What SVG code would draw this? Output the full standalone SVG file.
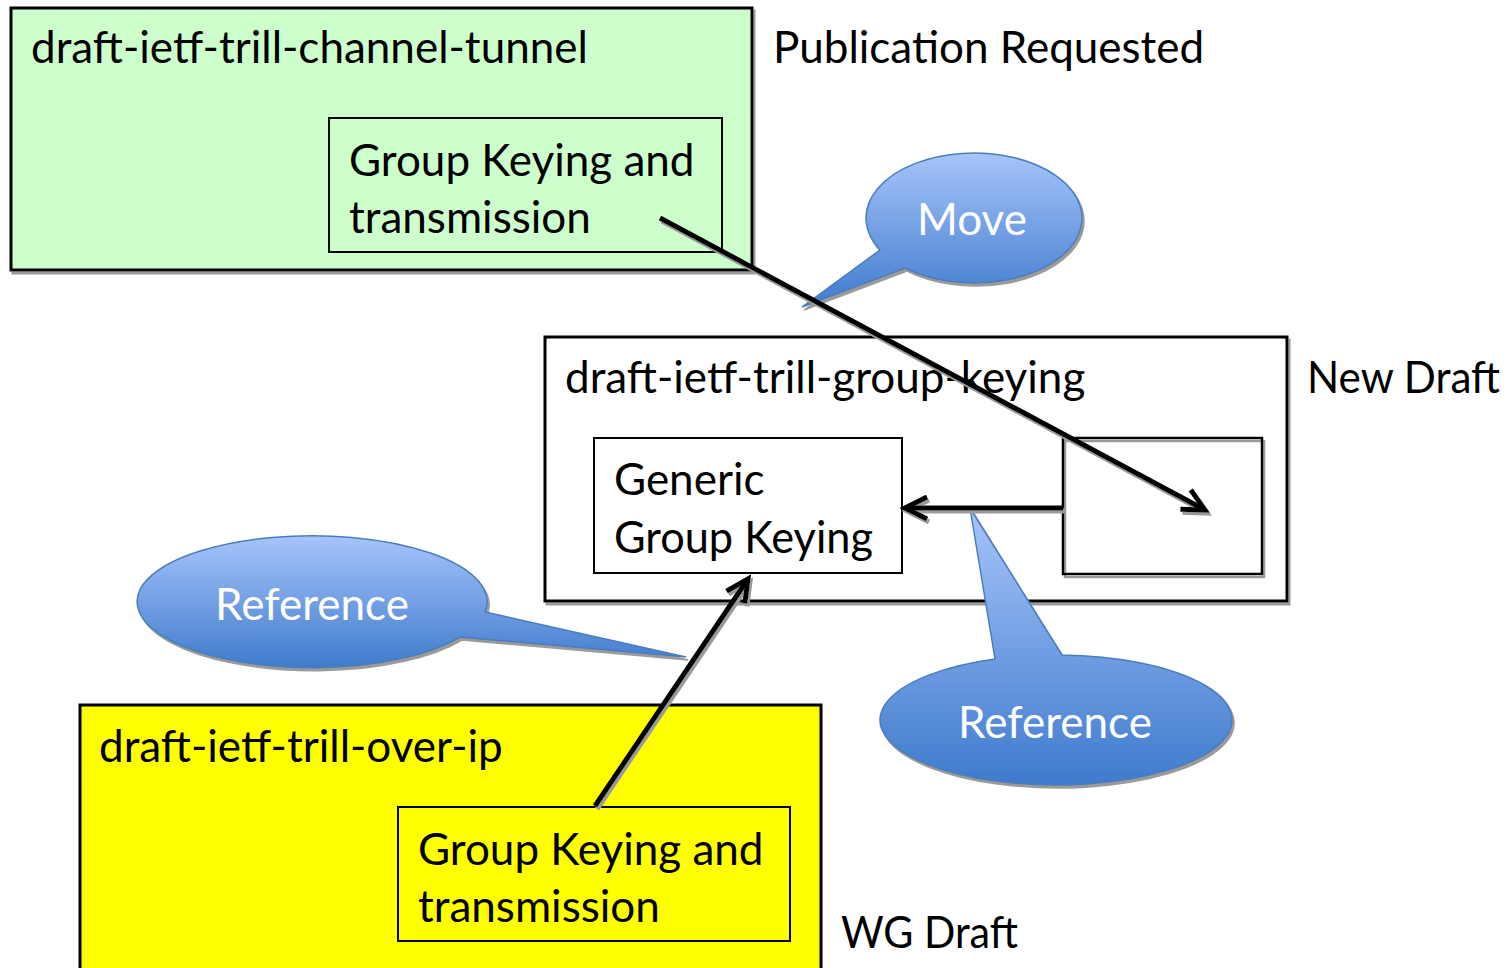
<svg xmlns="http://www.w3.org/2000/svg" width="1512" height="968" viewBox="0 0 1512 968">
  <defs>
    <style>
      .lbl { font-family: Lato, "Liberation Sans", sans-serif; font-size: 44px; fill: #000; }
      .call { font-family: Lato, "Liberation Sans", sans-serif; font-size: 44px; fill: #fff; text-anchor: middle; }
      .frame { stroke: #000; stroke-width: 3; }
      .inner { fill: none; stroke: #000; stroke-width: 2; }
      .bubble { fill: url(#bubbleFill); stroke: #4a7ebb; stroke-width: 1.5; filter: url(#shade); }
      .conn { fill: none; stroke: #000; stroke-width: 5; filter: url(#shade); }
    </style>
    <linearGradient id="bubbleFill" x1="0" y1="0" x2="0" y2="1">
      <stop offset="0" stop-color="#a7c4fa"/>
      <stop offset="1" stop-color="#3f7bcd"/>
    </linearGradient>
    <!-- hard grey drop shadow, region covers the whole canvas so thin lines keep it -->
    <filter id="shade" filterUnits="userSpaceOnUse" x="0" y="0" width="1512" height="968">
      <feOffset in="SourceAlpha" dx="2" dy="3" result="off"/>
      <feFlood flood-color="#9a9a9a"/>
      <feComposite in2="off" operator="in" result="sh"/>
      <feMerge>
        <feMergeNode in="sh"/>
        <feMergeNode in="SourceGraphic"/>
      </feMerge>
    </filter>
    <marker id="openArrow" markerUnits="userSpaceOnUse" markerWidth="40" markerHeight="40" refX="0" refY="0" viewBox="-30 -20 40 40" orient="auto" overflow="visible">
      <path d="M -22 -11 L 0 0 L -22 11" fill="none" stroke="#000" stroke-width="5"/>
    </marker>
  </defs>

  <rect width="1512" height="968" fill="#fff"/>

  <!-- channel-tunnel draft -->
  <g id="channel-tunnel">
    <rect x="11" y="8" width="741" height="262" fill="#ccffcc" class="frame" filter="url(#shade)"/>
    <text class="lbl" x="31" y="63">draft-ietf-trill-channel-tunnel</text>
    <rect x="329" y="118" width="393" height="134" class="inner"/>
    <text class="lbl" x="349" y="176">Group Keying and</text>
    <text class="lbl" x="349" y="233">transmission</text>
  </g>
  <text id="status-published" class="lbl" x="773" y="63">Publication Requested</text>

  <!-- group-keying draft -->
  <g id="group-keying">
    <rect x="545" y="337" width="742" height="264" fill="#fff" class="frame" filter="url(#shade)"/>
    <text class="lbl" x="565" y="393">draft-ietf-trill-group-keying</text>
    <rect x="594" y="438" width="308" height="135" fill="none" stroke="#000" stroke-width="2"/>
    <text class="lbl" x="614" y="495">Generic</text>
    <text class="lbl" x="614" y="553" textLength="259" lengthAdjust="spacingAndGlyphs">Group Keying</text>
    <rect x="1063" y="438" width="199" height="136" fill="none" stroke="#000" stroke-width="2.5" filter="url(#shade)"/>
  </g>
  <text id="status-new" class="lbl" x="1307" y="393" textLength="193" lengthAdjust="spacingAndGlyphs">New Draft</text>

  <!-- over-ip draft -->
  <g id="over-ip">
    <rect x="80" y="705" width="741" height="275" fill="#ffff00" class="frame"/>
    <text class="lbl" x="99" y="762">draft-ietf-trill-over-ip</text>
    <rect x="398" y="807" width="392" height="134" class="inner"/>
    <text class="lbl" x="418" y="865">Group Keying and</text>
    <text class="lbl" x="418" y="922">transmission</text>
  </g>
  <text id="status-wg" class="lbl" x="841" y="948" textLength="177" lengthAdjust="spacingAndGlyphs">WG Draft</text>

  <!-- callouts -->
  <g id="callout-move">
    <path class="bubble" d="M 880 250 A 108 65 0 1 1 905 268 L 802 307 Z"/>
    <text class="call" x="972" y="235">Move</text>
  </g>
  <g id="callout-reference-left">
    <path class="bubble" d="M 460 637 A 175 66 0 1 1 485 612 L 686 657 Z"/>
    <text class="call" x="312" y="620">Reference</text>
  </g>
  <g id="callout-reference-right">
    <path class="bubble" d="M 1062 655 A 176 65 0 1 1 995 659 L 970 508 Z"/>
    <text class="call" x="1055" y="738">Reference</text>
  </g>

  <!-- connectors -->
  <g id="connectors">
    <line class="conn" x1="660" y1="218" x2="1205" y2="510" marker-end="url(#openArrow)"/>
    <line class="conn" x1="1063" y1="508" x2="905" y2="508" marker-end="url(#openArrow)"/>
    <line class="conn" x1="595" y1="806" x2="748" y2="579" marker-end="url(#openArrow)"/>
  </g>
</svg>
